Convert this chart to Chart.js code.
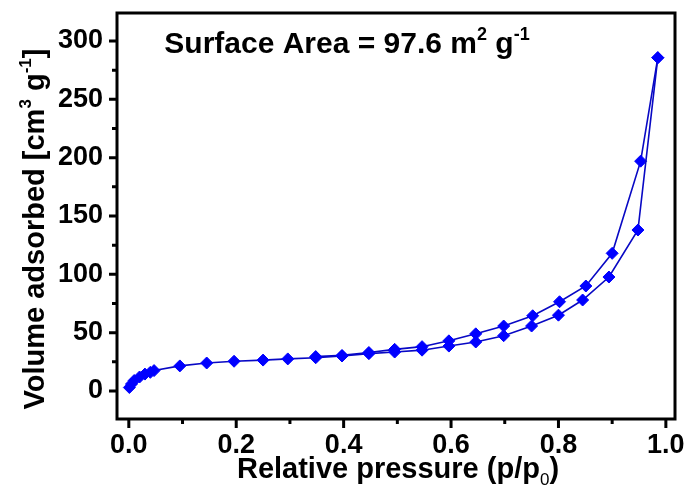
<!DOCTYPE html>
<html>
<head>
<meta charset="utf-8">
<script src="https://cdn.jsdelivr.net/npm/chart.js@4.4.0/dist/chart.umd.min.js"></script>
<style>
    html, body { margin: 0; padding: 0; background: #fff; }
    #wrap { width: 694px; height: 497px; }
</style>
</head>
<body>
<div id="wrap"><canvas id="canvas" width="694" height="497"></canvas></div>
<script>
// isotherm data
const adsPressure = [0.001, 0.005, 0.01, 0.02, 0.03, 0.04, 0.047, 0.095, 0.145, 0.196, 0.25, 0.296, 0.348, 0.397, 0.447, 0.495, 0.546, 0.596, 0.646, 0.698, 0.75, 0.8, 0.845, 0.894, 0.948, 0.985];
const adsVolume   = [3, 6, 9, 12, 14.5, 16, 17.5, 21.5, 24, 25.5, 26.5, 27.5, 28.5, 30, 32, 33.4, 35, 38.5, 42, 47.4, 55.7, 65, 78, 97.7, 138, 285.7];
const desPressure = [0.985, 0.953, 0.9, 0.851, 0.802, 0.752, 0.698, 0.646, 0.596, 0.546, 0.495, 0.447, 0.397, 0.348];
const desVolume   = [285.7, 197, 118, 90, 76.5, 64.5, 55.7, 49, 43, 38, 35.7, 33, 30.5, 29.5];

const xTicks = [0, 0.2, 0.4, 0.6, 0.8, 1.0];
const yTicks = [0, 50, 100, 150, 200, 250, 300];

const FONT = '"Liberation Sans", Arial, sans-serif';
const LINE = '#0808c4';
const MARK = '#0000ff';

function toPoints(xs, ys) {
    return xs.map((x, i) => ({x: x, y: ys[i]}));
}

// draws text pieces with super/subscripts, centred on x
function drawRich(ctx, parts, x, y, size) {
    let w = 0;
    parts.forEach(p => {
        ctx.font = p.font(size);
        p.w = ctx.measureText(p.t).width;
        w += p.w;
    });
    let cx = x - w / 2;
    parts.forEach(p => {
        ctx.font = p.font(size);
        ctx.fillText(p.t, cx, y + (p.dy || 0) * size);
        cx += p.w;
    });
}

const normal = s => `bold ${s}px ${FONT}`;
const small = s => `bold ${Math.round(s * 0.6)}px ${FONT}`;
const smallThin = s => `${Math.round(s * 0.6)}px ${FONT}`;

const framePlugin = {
    id: 'frame',
    afterDraw(chart) {
        const ctx = chart.ctx;
        const a = chart.chartArea;
        const xs = chart.scales.x;
        const ys = chart.scales.y;
        ctx.save();
        ctx.strokeStyle = '#000';
        ctx.lineWidth = 3;
        ctx.strokeRect(a.left, a.top, a.right - a.left, a.bottom - a.top);

        // major + minor ticks, pointing out
        ctx.beginPath();
        for (let i = 0; i < xTicks.length; i++) {
            const px = xs.getPixelForValue(xTicks[i]);
            ctx.moveTo(px, a.bottom);
            ctx.lineTo(px, a.bottom + 9);
            if (i < xTicks.length - 1) {
                const mx = xs.getPixelForValue((xTicks[i] + xTicks[i + 1]) / 2);
                ctx.moveTo(mx, a.bottom);
                ctx.lineTo(mx, a.bottom + 5);
            }
        }
        for (let i = 0; i < yTicks.length; i++) {
            const py = ys.getPixelForValue(yTicks[i]);
            ctx.moveTo(a.left, py);
            ctx.lineTo(a.left - 8, py);
            if (i < yTicks.length - 1) {
                const my = ys.getPixelForValue((yTicks[i] + yTicks[i + 1]) / 2);
                ctx.moveTo(a.left, my);
                ctx.lineTo(a.left - 5, my);
            }
        }
        ctx.stroke();

        ctx.fillStyle = '#000';
        ctx.textBaseline = 'alphabetic';
        ctx.textAlign = 'left';

        // x title
        drawRich(ctx, [
            {t: 'Relative pressure (p/p', font: normal},
            {t: '0', font: smallThin, dy: 0.25},
            {t: ')', font: normal}
        ], 398, 478, 29);

        // y title
        ctx.save();
        ctx.translate(44, 229);
        ctx.rotate(-Math.PI / 2);
        drawRich(ctx, [
            {t: 'Volume adsorbed [cm', font: normal},
            {t: '3', font: small, dy: -0.45},
            {t: ' g', font: normal},
            {t: '-1', font: small, dy: -0.45},
            {t: ']', font: normal}
        ], 0, 0, 29);
        ctx.restore();

        // surface area note
        drawRich(ctx, [
            {t: 'Surface Area = 97.6 m', font: normal},
            {t: '2', font: small, dy: -0.42},
            {t: ' g', font: normal},
            {t: '-1', font: small, dy: -0.42}
        ], 347, 53, 30);
        ctx.restore();
    }
};

const data = {
    datasets: [
        {
            label: 'Adsorption',
            data: toPoints(adsPressure, adsVolume),
            showLine: true,
            borderColor: LINE,
            borderWidth: 1.6,
            backgroundColor: MARK,
            pointBackgroundColor: MARK,
            pointBorderColor: MARK,
            pointStyle: 'rectRot',
            pointRadius: 6,
            pointBorderWidth: 1
        },
        {
            label: 'Desorption',
            data: toPoints(desPressure, desVolume),
            showLine: true,
            borderColor: LINE,
            borderWidth: 1.6,
            backgroundColor: MARK,
            pointBackgroundColor: MARK,
            pointBorderColor: MARK,
            pointStyle: 'rectRot',
            pointRadius: 6,
            pointBorderWidth: 1
        }
    ]
};

const options = {
    animation: false,
    responsive: false,
    layout: {
        padding: {left: 0, top: 13, right: 19, bottom: 0}
    },
    plugins: {
        legend: {display: false},
        tooltip: {enabled: false}
    },
    scales: {
        x: {
            type: 'linear',
            min: -0.022,
            max: 1.017,
            afterFit: scale => {
                scale.height = 78;
                scale.paddingLeft = 0;
                scale.paddingRight = 0;
            },
            afterBuildTicks: scale => { scale.ticks = xTicks.map(v => ({value: v})); },
            grid: {display: false, drawTicks: false},
            border: {display: false},
            ticks: {
                padding: 10,
                color: '#000',
                font: {family: FONT, size: 27, weight: 'bold'},
                maxRotation: 0,
                callback: v => Number(v).toFixed(1)
            }
        },
        y: {
            type: 'linear',
            min: -24,
            max: 324,
            afterFit: scale => {
                scale.width = 117;
                scale.paddingTop = 0;
                scale.paddingBottom = 0;
            },
            afterBuildTicks: scale => { scale.ticks = yTicks.map(v => ({value: v})); },
            grid: {display: false, drawTicks: false},
            border: {display: false},
            ticks: {
                padding: 14,
                color: '#000',
                font: {family: FONT, size: 27, weight: 'bold'},
                callback: v => String(v)
            }
        }
    }
};

new Chart(document.getElementById('canvas').getContext('2d'), {
    type: 'scatter',
    data: data,
    options: options,
    plugins: [framePlugin]
});
</script>
</body>
</html>
